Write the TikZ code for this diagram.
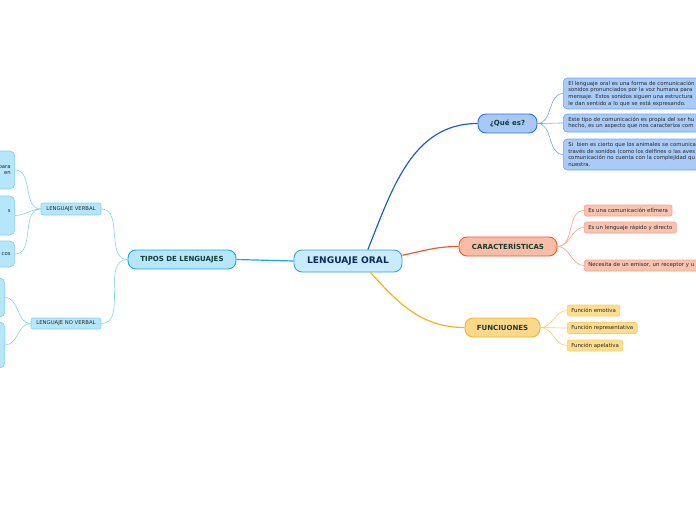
\documentclass[tikz,border=0pt]{standalone}
\usepackage{fontspec}
\setmainfont{DejaVu Sans}
\definecolor{oralfill}{HTML}{C9ECFC}
\definecolor{oraldraw}{HTML}{3B9ED8}
\definecolor{oraltext}{HTML}{0A2A5C}
\definecolor{tipfill}{HTML}{B5E6FB}
\definecolor{tipdraw}{HTML}{1EA6E0}
\definecolor{headtext}{HTML}{123D33}
\definecolor{subfill}{HTML}{B6E6FB}
\definecolor{subdraw}{HTML}{82D2F4}
\definecolor{quefill}{HTML}{A8C9F6}
\definecolor{quedraw}{HTML}{2D6FDB}
\definecolor{qlfill}{HTML}{A9CBF7}
\definecolor{qldraw}{HTML}{74A6EC}
\definecolor{carfill}{HTML}{F8BCA7}
\definecolor{cardraw}{HTML}{EF5A2B}
\definecolor{clfill}{HTML}{F9C3B1}
\definecolor{cldraw}{HTML}{F3A488}
\definecolor{funfill}{HTML}{FDD88A}
\definecolor{fundraw}{HTML}{F5B41F}
\definecolor{flfill}{HTML}{FEDD8E}
\definecolor{fldraw}{HTML}{F8CF6E}
\definecolor{leaftext}{HTML}{262626}
\definecolor{linetip}{HTML}{1AA5E2}
\definecolor{lineque}{HTML}{1A5FCF}
\definecolor{linecar}{HTML}{EE5A30}
\definecolor{linefun}{HTML}{F6B21D}
\begin{document}
\begin{tikzpicture}[x=1pt,y=1pt,
  mainbox/.style={draw, rectangle, rounded corners=8pt, line width=0.9pt, inner sep=0pt,
    font=\bfseries\fontsize{7}{8}\selectfont, text=headtext},
  subbox/.style={draw=subdraw, fill=subfill, rectangle, rounded corners=2pt, line width=0.6pt,
    inner sep=0pt, font=\fontsize{5.3}{6.5}\selectfont, text=leaftext},
  leftleaf/.style={draw=subdraw, fill=subfill, rectangle, rounded corners=5pt, line width=0.7pt,
    anchor=east, minimum width=60pt, text width=52pt, align=right, inner xsep=4pt, inner ysep=0pt,
    font=\fontsize{5.3}{6.5}\selectfont, text=leaftext},
  qleaf/.style={draw=qldraw, fill=qlfill, rectangle, rounded corners=4pt, line width=0.6pt,
    anchor=west, text width=190pt, align=left, inner xsep=5pt, inner ysep=0pt,
    font=\fontsize{5.35}{6.7}\selectfont, text=leaftext},
  smallleaf/.style={rectangle, rounded corners=2pt, line width=0.6pt, anchor=west,
    inner xsep=4pt, inner ysep=0pt, minimum height=11pt,
    font=\fontsize{5.4}{6.5}\selectfont, text=leaftext},
  thin/.style={line width=0.6pt},
  thick/.style={line width=1.2pt}]
\useasboundingbox (0,0) rectangle (696,-520);
\clip (0,0) rectangle (696,-520);

% central
\node[mainbox, draw=oraldraw, fill=oralfill, text=oraltext, minimum width=108pt, minimum height=22pt,
  font=\bfseries\fontsize{9.1}{10}\selectfont] (oral) at (348,-261) {LENGUAJE ORAL};

% left side
\node[mainbox, draw=tipdraw, fill=tipfill, minimum width=108pt, minimum height=19pt] (tipos) at (182,-259.5) {TIPOS DE LENGUAJES};
\node[subbox, minimum width=60pt, minimum height=12pt] (verbal) at (71,-209) {LENGUAJE VERBAL};
\node[subbox, minimum width=70pt, minimum height=11pt] (noverbal) at (66,-323.5) {LENGUAJE NO VERBAL};
\node[leftleaf, minimum height=38pt] (l1) at (15,-170) {para\\en};
\node[leftleaf, minimum height=39pt] (l2) at (15,-215.5) {s\\[3pt]~};
\node[leftleaf, minimum height=26pt] (l3) at (15,-254) {cos};
\node[leftleaf, minimum height=39pt] (l4) at (5,-297.5) {};
\node[leftleaf, minimum height=46pt] (l5) at (5,-345) {};

% que es
\node[mainbox, draw=quedraw, fill=quefill, minimum width=59pt, minimum height=19pt] (que) at (507.5,-123.5) {¿Qué es?};
\node[qleaf, minimum height=31pt] (q1) at (563,-93.5) {El lenguaje oral es una forma de comunicación\\sonidos pronunciados por la voz humana para\\mensaje. Estos sonidos siguen una estructura\\le dan sentido a lo que se está expresando.};
\node[qleaf, minimum height=18pt] (q2) at (563,-123) {Este tipo de comunicación es propia del ser hu\\hecho, es un aspecto que nos caracteriza com};
\node[qleaf, minimum height=31pt] (q3) at (563,-154.5) {Si~ bien es cierto que los animales se comunica\\través de sonidos (como los delfines o las aves\\comunicación no cuenta con la complejidad qu\\nuestra.};

% caracteristicas
\node[mainbox, draw=cardraw, fill=carfill, minimum width=98pt, minimum height=19pt] (carac) at (508,-246.5) {CARACTERÍSTICAS};
\node[smallleaf, draw=cldraw, fill=clfill] (c1) at (584,-210.5) {Es una comunicación efímera};
\node[smallleaf, draw=cldraw, fill=clfill] (c2) at (584,-227.5) {Es un lenguaje rápido y directo};
\node[smallleaf, draw=cldraw, fill=clfill, text width=160pt, align=left] (c3) at (584,-265.5) {Necesita de un emisor, un receptor y u};

% funciones
\node[mainbox, draw=fundraw, fill=funfill, minimum width=75pt, minimum height=19pt] (func) at (502.5,-327.5) {FUNCIUONES};
\node[smallleaf, draw=fldraw, fill=flfill] (f1) at (567,-310.5) {Función emotiva};
\node[smallleaf, draw=fldraw, fill=flfill] (f2) at (567,-328) {Función representativa};
\node[smallleaf, draw=fldraw, fill=flfill] (f3) at (567,-345.5) {Función apelativa};

% main connectors
\draw[thick, linetip] (oral.west) -- (tipos.east);
\draw[thick, lineque] (oral.30) to[out=68,in=180] (que.west);
\draw[thick, linecar] (oral.6) to[out=12,in=180] (carac.west);
\draw[thick, linefun] (oral.-27) to[out=-48,in=180] (func.west);

% branch connectors
\begin{scope}[thin, draw=subdraw]
\draw (tipos.west) to[out=180,in=0] (verbal.east);
\draw (tipos.west) to[out=180,in=0] (noverbal.east);
\draw (verbal.west) to[out=180,in=0] (l1.east);
\draw (verbal.west) to[out=180,in=0] (l2.east);
\draw (verbal.west) to[out=180,in=0] (l3.east);
\draw (noverbal.west) to[out=180,in=0] (l4.east);
\draw (noverbal.west) to[out=180,in=0] (l5.east);
\end{scope}
\begin{scope}[thin, draw=qldraw]
\draw (que.east) to[out=0,in=180] (q1.west);
\draw (que.east) to[out=0,in=180] (q2.west);
\draw (que.east) to[out=0,in=180] (q3.west);
\end{scope}
\begin{scope}[thin, draw=cldraw]
\draw (carac.east) to[out=0,in=180] (c1.west);
\draw (carac.east) to[out=0,in=180] (c2.west);
\draw (carac.east) to[out=0,in=180] (c3.west);
\end{scope}
\begin{scope}[thin, draw=fldraw]
\draw (func.east) to[out=0,in=180] (f1.west);
\draw (func.east) to[out=0,in=180] (f2.west);
\draw (func.east) to[out=0,in=180] (f3.west);
\end{scope}
\end{tikzpicture}
\end{document}
